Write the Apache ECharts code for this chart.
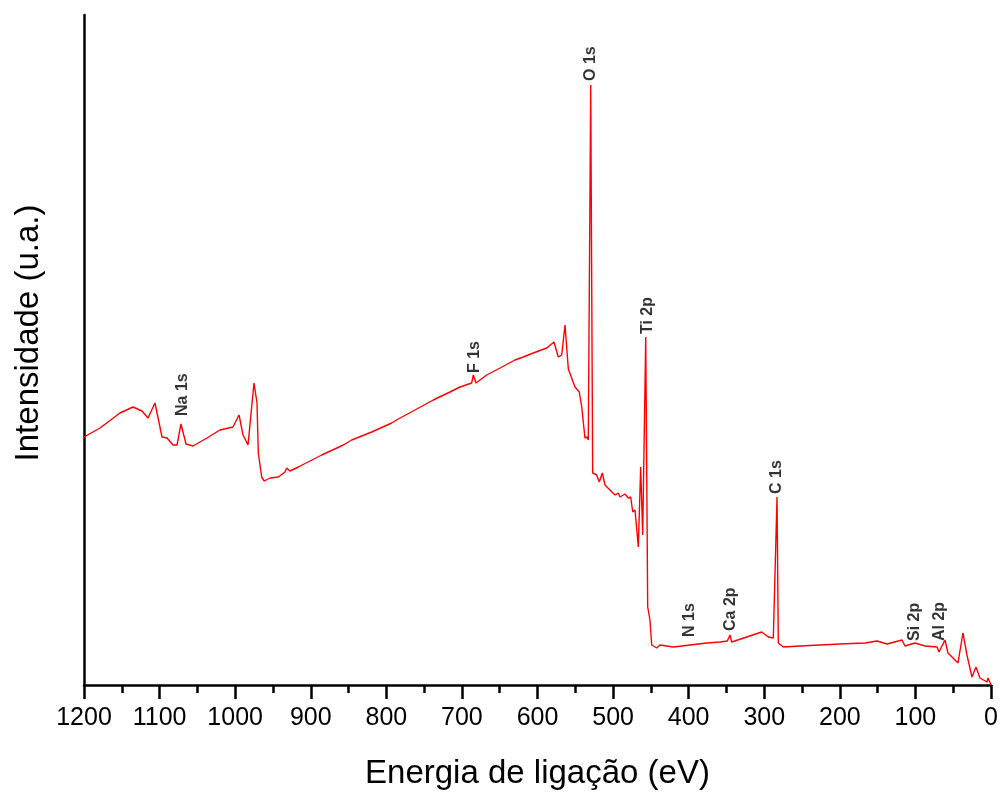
<!DOCTYPE html>
<html>
<head>
<meta charset="utf-8">
<script src="https://cdn.jsdelivr.net/npm/echarts@6/dist/echarts.min.js"></script>
<style>
  html, body { margin: 0; padding: 0; background: #fff; }
  #chart { width: 1003px; height: 802px; }
</style>
</head>
<body>
<div id="chart"></div>
<script>
var energia = [
  1200, 1178.8, 1152.4, 1135.2, 1123.3, 1115.3, 1106.1, 1096.8, 1090.2, 1082.2,
  1076.9, 1071.7, 1065.0, 1055.8, 1037.3, 1020.1, 1002.9, 994.9, 989.6, 983.0,
  975.1, 971.1, 969.4, 964.9, 961.5, 953.9, 942.9, 934.1, 931.8, 927.5,
  916.5, 885.5, 856.9, 845.8, 819.4, 792.9, 784.2, 762.1, 737.9, 715.8,
  702.5, 687.1, 684.9, 681.4, 667.2, 649.6, 629.8, 618.8, 605.6, 587.8,
  578.2, 572.5, 568.0, 563.6, 559.2, 550.4, 544.7, 541.5, 537.2, 534.1,
  532.8, 529.6, 527.0, 521.7, 518.2, 514.3, 510.7, 504.1, 497.5, 493.1,
  490.9, 484.2, 479.9, 476.7, 474.0, 471.0, 466.6, 463.5, 460.8, 456.8,
  454.2, 451.2, 448.9, 442.3, 437.9, 420.3, 398.2, 376.1, 358.5, 348.9,
  345.3, 343.1, 323.2, 303.4, 294.6, 288.0, 283.1, 281.4, 274.8, 252.7,
  199.8, 166.7, 150.8, 137.6, 117.8, 113.8, 100.6, 87.3, 71.4, 68.8,
  60.9, 56.9, 47.6, 43.7, 37.1, 31.8, 25.2, 19.9, 14.6, 5.3,
  4.0, 0
];
var intensidade = [
  248, 257, 272, 278, 274, 267, 282, 248, 247, 240,
  240, 261, 241, 239, 247, 255, 258, 270, 250, 240,
  302, 282, 232, 208, 204, 207, 208, 213, 217, 214,
  218, 230, 240, 245, 253, 262, 266, 275, 285, 293,
  298, 302, 310, 302, 310, 317, 325, 328, 332, 337,
  343, 328, 330, 360, 316, 298, 293, 278, 247, 248,
  245, 600, 212, 210, 203, 212, 200, 195, 190, 192,
  188, 191, 187, 188, 173, 175, 138, 218, 150, 348,
  78, 65, 40, 37, 40, 38, 40, 42, 43, 44,
  50, 43, 48, 53, 48, 47, 188, 42, 38, 39,
  41, 42, 44, 41, 45, 39, 42, 39, 38, 33,
  45, 32, 25, 22, 52, 30, 8, 18, 7, 3,
  7, 0
];
// rótulos dos picos
var picos = ['Na 1s', 'F 1s', 'O 1s', 'Ti 2p', 'C 1s', 'N 1s', 'Ca 2p', 'Si 2p', 'Al 2p'];
var picosEnergia = [1069, 682.7, 529.2, 453.8, 283.1, 398.2, 344.0, 100.6, 67.5];
var picosAltura = [269, 312, 604, 351, 191, 48, 54, 44, 44];

var espectro = energia.map(function (e, i) { return [e, intensidade[i]]; });
var rotulos = picos.map(function (p, i) {
  return { name: p, value: [picosEnergia[i], picosAltura[i]] };
});

var chart = echarts.init(document.getElementById('chart'));
chart.setOption({
  animation: false,
  grid: { left: 84, right: 12, top: 15, bottom: 117 },
  xAxis: {
    type: 'value',
    inverse: true,
    min: 0,
    max: 1200,
    interval: 100,
    name: 'Energia de ligação (eV)',
    nameLocation: 'middle',
    nameGap: 72,
    nameTextStyle: { fontFamily: 'Liberation Sans', fontSize: 33, color: '#000' },
    axisLine: { onZero: false, lineStyle: { color: '#000', width: 2.5 } },
    axisTick: { length: 14, lineStyle: { color: '#000', width: 2.5 } },
    minorTick: { show: true, splitNumber: 2, length: 8, lineStyle: { color: '#000', width: 2.5 } },
    splitLine: { show: false },
    axisLabel: {
      fontFamily: 'Liberation Sans', fontSize: 25, color: '#000', margin: 21,
      formatter: function (v) { return String(v); }
    }
  },
  yAxis: {
    type: 'value',
    position: 'left',
    min: 0,
    max: 670,
    name: 'Intensidade (u.a.)',
    nameLocation: 'middle',
    nameGap: 39,
    nameTextStyle: { fontFamily: 'Liberation Sans', fontSize: 33, color: '#000', padding: [0, 0, 0, 34] },
    axisLine: { show: true, onZero: false, lineStyle: { color: '#000', width: 2.5 } },
    axisTick: { show: false },
    axisLabel: { show: false },
    splitLine: { show: false }
  },
  series: [
    {
      type: 'line',
      data: espectro,
      symbol: 'none',
      lineStyle: { color: '#ff0000', width: 1.4 }
    },
    {
      type: 'scatter',
      data: rotulos,
      symbolSize: 0,
      label: {
        show: true,
        formatter: '{b}',
        position: 'top',
        distance: 0,
        rotate: 90,
        align: 'left',
        verticalAlign: 'middle',
        fontFamily: 'Liberation Sans',
        fontWeight: 'bold',
        fontSize: 16,
        color: '#000'
      }
    }
  ]
});
</script>
</body>
</html>
